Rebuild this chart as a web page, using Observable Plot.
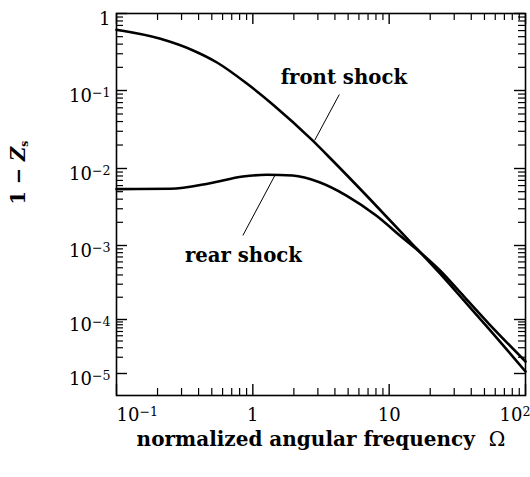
<!DOCTYPE html>
<html><head><meta charset="utf-8">
<script src="https://cdn.jsdelivr.net/npm/d3@7"></script>
<script src="https://cdn.jsdelivr.net/npm/@observablehq/plot@0.6"></script>
<style>body{margin:0;background:#fff;} svg{display:block;}</style>
</head><body><div id="chart"></div>
<script>
// ---- data ----
const frontOmega = [0.1, 0.21, 0.365, 0.546, 0.904, 1.40, 2.74, 3.84, 7.15, 14.0, 23.2, 35.3, 53.7, 100];
const frontValue = [0.614, 0.469, 0.331, 0.231, 0.123, 0.0662, 0.0229, 0.01267, 4.08e-3, 1.16e-3, 4.32e-4, 1.81e-4, 6.8e-5, 1.09e-5];
const rearOmega = [0.1, 0.248, 0.485, 0.845, 1.265, 1.96, 3.08, 4.86, 8.03, 12.4, 16.6, 23.2, 35.3, 53.7, 100];
const rearValue = [5.4e-3, 5.45e-3, 6.44e-3, 7.87e-3, 8.28e-3, 8.1e-3, 6.64e-3, 4.46e-3, 2.45e-3, 1.28e-3, 8.3e-4, 4.74e-4, 2.05e-4, 8.4e-5, 1.67e-5];

const xTicksMajor = [0.1, 1, 10, 100];
const xTickLabels = ["10^-1", "1", "10", "10^2"];
const yTicksMajor = [1, 0.1, 0.01, 0.001, 1e-4, 1e-5];
const yTickLabels = ["1", "10^-1", "10^-2", "10^-3", "10^-4", "10^-5"];
const minorMultipliers = [2, 3, 4, 5, 6, 7, 8, 9];
const xDecades = [0.1, 1, 10];
const yDecades = [1e-5, 1e-4, 1e-3, 1e-2, 1e-1];

const seriesNames = ["front shock", "rear shock"];
const labelOmega = [4.65, 0.853];
const labelValue = [0.123, 5.9e-4];
const leaderOmega1 = [4.31, 0.845];
const leaderValue1 = [0.089, 1.35e-3];
const leaderOmega2 = [2.84, 1.45];
const leaderValue2 = [0.0229, 8.1e-3];

const xTitle = "normalized angular frequency  Ω";
const yTitle = "1 − Z_s";

// ---- tables ----
const front = frontOmega.map((x, i) => ({x, y: frontValue[i]}));
const rear = rearOmega.map((x, i) => ({x, y: rearValue[i]}));
const xMinor = xDecades.flatMap(d => minorMultipliers.map(m => d * m));
const yMinor = yDecades.flatMap(d => minorMultipliers.map(m => d * m));
const xLab = xTickLabels.map((t, i) => ({t, x: xTicksMajor[i]}));
const yLab = yTickLabels.map((t, i) => ({t, y: yTicksMajor[i]}));
const labels = seriesNames.map((t, i) => ({t, x: labelOmega[i], y: labelValue[i]}));
const leaders = seriesNames.map((t, i) => ({x1: leaderOmega1[i], y1: leaderValue1[i], x2: leaderOmega2[i], y2: leaderValue2[i]}));

const W = 530, H = 477, mL = 116, mR = 5, mT = 13, mB = 82;
const fw = W - mL - mR, fh = H - mT - mB;
const MAJ = 11, MIN = 7;
const serif = "DejaVu Serif";

const plot = Plot.plot({
  width: W, height: H,
  marginLeft: mL, marginRight: mR, marginTop: mT, marginBottom: mB,
  style: {fontFamily: serif, background: "#fff", color: "#000"},
  x: {type: "log", domain: [0.1, 100], range: [116, 525], axis: null},
  y: {type: "log", domain: [4e-6, 1e-5, 1e-4, 1e-3, 1e-2, 1e-1, 1], range: [395, 373, 319, 245, 168, 90, 13], axis: null},
  marks: [
    // ticks (inward on all sides)
    Plot.tickX(xMinor, {x: d => d, insetTop: fh - MIN, stroke: "#000", strokeWidth: 1.2}),
    Plot.tickX(xMinor, {x: d => d, insetBottom: fh - MIN, stroke: "#000", strokeWidth: 1.2}),
    Plot.tickX(xTicksMajor, {x: d => d, insetTop: fh - MAJ, stroke: "#000", strokeWidth: 1.4}),
    Plot.tickX(xTicksMajor, {x: d => d, insetBottom: fh - MAJ, stroke: "#000", strokeWidth: 1.4}),
    Plot.tickY(yMinor, {y: d => d, insetRight: fw - MIN, stroke: "#000", strokeWidth: 1.2}),
    Plot.tickY(yMinor, {y: d => d, insetLeft: fw - MIN, stroke: "#000", strokeWidth: 1.2}),
    Plot.tickY(yTicksMajor, {y: d => d, insetRight: fw - MAJ, stroke: "#000", strokeWidth: 1.4}),
    Plot.tickY(yTicksMajor, {y: d => d, insetLeft: fw - MAJ, stroke: "#000", strokeWidth: 1.4}),
    Plot.frame({stroke: "#000", strokeWidth: 1.6}),
    // curves
    Plot.line(front, {x: "x", y: "y", stroke: "#000", strokeWidth: 2.6, curve: "monotone-x"}),
    Plot.line(rear, {x: "x", y: "y", stroke: "#000", strokeWidth: 2.6, curve: "monotone-x"}),
    Plot.link(leaders, {x1: "x1", y1: "y1", x2: "x2", y2: "y2", stroke: "#000", strokeWidth: 1}),
    Plot.text(labels, {x: "x", y: "y", text: "t", lineAnchor: "bottom", fontWeight: "bold", fontSize: 19.7, fill: "#000"}),
    // tick labels
    Plot.text(xLab.slice(0, 1), {x: "x", text: "t", frameAnchor: "bottom", textAnchor: "start", dy: 13, lineAnchor: "top", fontSize: 18, fill: "#000"}),
    Plot.text(xLab.slice(1, 3), {x: "x", text: "t", frameAnchor: "bottom", textAnchor: "middle", dy: 13, lineAnchor: "top", fontSize: 18, fill: "#000"}),
    Plot.text(xLab.slice(3), {x: "x", text: "t", frameAnchor: "bottom", textAnchor: "end", dx: 5, dy: 13, lineAnchor: "top", fontSize: 18, fill: "#000"}),
    Plot.text(yLab, {y: "y", text: "t", frameAnchor: "left", textAnchor: "end", dx: -6, dy: 6, lineAnchor: "middle", fontSize: 18, fill: "#000"}),
    // axis titles
    Plot.text([xTitle], {frameAnchor: "bottom", dy: 50, lineAnchor: "bottom", fontWeight: "bold", fontSize: 20, fill: "#000"}),
    Plot.text([yTitle], {frameAnchor: "left", dx: -98, rotate: -90, lineAnchor: "middle", fontWeight: "bold", fontSize: 19.5, fill: "#000"})
  ]
});
document.getElementById("chart").appendChild(plot);

// rich-text post-processing (superscripts, subscript, regular Omega)
d3.select(plot).selectAll("text").each(function () {
  const t = this.textContent;
  const el = d3.select(this);
  let m;
  if ((m = t.match(/^(.*?)\^(.*)$/))) {
    el.text(null);
    el.append("tspan").text(m[1]);
    el.append("tspan").attr("dy", "-0.45em").attr("font-size", "0.7em").text(m[2].replace("-", "−"));
  } else if ((m = t.match(/^(.*)Z_(.*)$/))) {
    el.text(null);
    el.append("tspan").text(m[1]);
    el.append("tspan").attr("font-style", "italic").text("Z");
    el.append("tspan").attr("dy", "0.3em").attr("font-size", "0.55em").text(m[2]);
  } else if (t.endsWith("Ω")) {
    el.text(null);
    el.append("tspan").text(t.slice(0, -1));
    el.append("tspan").attr("font-weight", "normal").text("Ω");
  }
});
</script>
</body></html>
